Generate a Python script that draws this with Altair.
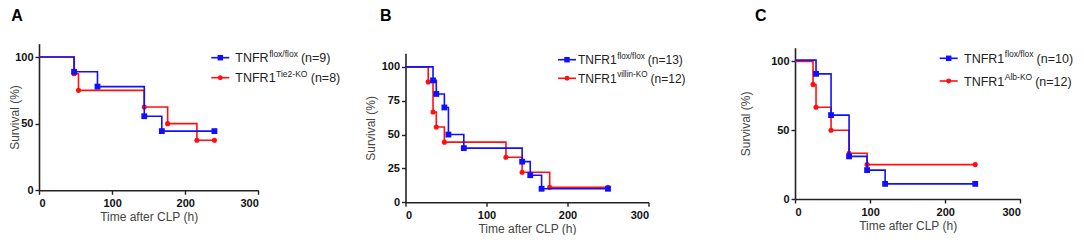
import altair as alt
import pandas as pd

# ---------------- data ----------------
a_ctrl_t = [0, 48, 80, 144, 168, 240]
a_ctrl_s = [100, 88.9, 77.8, 55.6, 44.4, 44.4]
a_ko_t = [0, 48, 54, 144, 176, 216, 240]
a_ko_s = [100, 87.5, 75, 62.5, 50, 37.5, 37.5]

b_ctrl_t = [0, 34, 38, 48, 53, 72, 144, 154, 168, 250]
b_ctrl_s = [100, 90, 80, 70, 50, 40, 30, 20, 10, 10]
b_ko_t = [0, 28, 34, 38, 48, 124, 144, 178, 250]
b_ko_s = [100, 88.9, 66.7, 55.6, 44.4, 33.3, 22.2, 11.1, 11.1]

c_ctrl_t = [0, 28, 48, 72, 96, 120, 240]
c_ctrl_s = [101, 91, 61, 31, 21, 11, 11]
c_ko_t = [0, 24, 28, 48, 72, 96, 240]
c_ko_s = [100, 83.3, 66.7, 50, 33.3, 25, 25]

a_names = [("TNFR", "flox/flox", "(n=9)"), ("TNFR1", "Tie2-KO", "(n=8)")]
b_names = [("TNFR1", "flox/flox", "(n=13)"), ("TNFR1", "villin-KO", "(n=12)")]
c_names = [("TNFR1", "flox/flox", "(n=10)"), ("TNFR1", "Alb-KO", "(n=12)")]

x_ticks = [0, 100, 200, 300]
a_yticks = [0, 50, 100]
b_yticks = [0, 25, 50, 75, 100]
c_yticks = [0, 50, 100]

BLUE = "#1010ff"
RED = "#ff1010"
FONT = "Liberation Sans"

# Arial / Liberation Sans advance widths (per 1000 em)
W = {" ": 278, "(": 333, ")": 333, "=": 584, "/": 278, "-": 333,
     "T": 611, "N": 722, "F": 611, "R": 722, "K": 667, "O": 778, "A": 667,
     "f": 278, "l": 222, "o": 556, "x": 500, "i": 222, "e": 556, "v": 500,
     "n": 556, "b": 556}


def text_width(s, size):
    return sum(W.get(ch, 556) for ch in s) * size / 1000.0


def one():
    return alt.Chart(pd.DataFrame({"k": [0]}))


def series_layers(t, s, color, shape, W_, H, ytop, yticks, title_pad):
    df = pd.DataFrame({"t": t, "s": s})
    xenc = alt.X("t:Q", scale=alt.Scale(domain=[0, 300]),
                 axis=alt.Axis(values=x_ticks, title="Time after CLP (h)",
                               format="d"))
    yenc = alt.Y("s:Q", scale=alt.Scale(domain=[0, 110], range=[H, ytop]),
                 axis=alt.Axis(values=yticks, title="Survival (%)",
                               titlePadding=title_pad, format="d"))
    line = alt.Chart(df).mark_line(interpolate="step-after", color=color,
                                   strokeWidth=1.6).encode(x=xenc, y=yenc)
    pts = alt.Chart(df).transform_filter("datum.t > 0").mark_point(
        shape=shape, filled=True, color=color, opacity=1,
        size=34 if shape == "square" else 26).encode(x="t:Q", y="s:Q")
    return [line, pts]


def legend_layers(names, colors, shapes, x_line, x_text, rows_y, size):
    layers = []
    for (main, sup, n), col, shp, ry in zip(names, colors, shapes, rows_y):
        layers.append(one().mark_rule(color=col, strokeWidth=1.6).encode(
            x=alt.value(x_line), x2=alt.value(x_line + 18), y=alt.value(ry)))
        layers.append(one().mark_point(shape=shp, filled=True, color=col, opacity=1,
                                       size=30 if shp == "square" else 24).encode(
            x=alt.value(x_line + 9), y=alt.value(ry)))
        base = ry + 4.5
        x1 = x_text
        x2 = x1 + text_width(main, size) + 0.5
        x3 = x2 + text_width(sup, size * 0.68) + 3
        layers.append(one().mark_text(align="left", baseline="alphabetic", font=FONT,
                                      fontSize=size, color="#222").encode(
            x=alt.value(x1), y=alt.value(base), text=alt.value(main)))
        layers.append(one().mark_text(align="left", baseline="alphabetic", font=FONT,
                                      fontSize=size * 0.68, color="#222").encode(
            x=alt.value(x2), y=alt.value(base - 5.5), text=alt.value(sup)))
        layers.append(one().mark_text(align="left", baseline="alphabetic", font=FONT,
                                      fontSize=size, color="#222").encode(
            x=alt.value(x3), y=alt.value(base), text=alt.value(n)))
    return layers


def panel(letter, letter_x, ctrl_t, ctrl_s, ko_t, ko_s, names, yticks,
          W_, H, ytop, title_pad, x_line, x_text, rows_y, size):
    layers = []
    layers += series_layers(ko_t, ko_s, RED, "circle", W_, H, ytop, yticks, title_pad)
    layers += series_layers(ctrl_t, ctrl_s, BLUE, "square", W_, H, ytop, yticks, title_pad)
    layers += legend_layers(names, [BLUE, RED], ["square", "circle"],
                            x_line, x_text, rows_y, size)
    layers.append(one().mark_text(align="left", baseline="alphabetic", font=FONT,
                                  fontSize=16, fontWeight="bold", color="#000").encode(
        x=alt.value(letter_x), y=alt.value(12), text=alt.value(letter)))
    return alt.layer(*layers).properties(width=W_, height=H)


pA = panel("A", -27.7, a_ctrl_t, a_ctrl_s, a_ko_t, a_ko_s, a_names, a_yticks,
           219.3, 181.3, 34.7, -7, 172.3, 196.3, [48.7, 68.7], 12.5)
pB = panel("B", -25.5, b_ctrl_t, b_ctrl_s, b_ko_t, b_ko_s, b_names, b_yticks,
           243, 193.3, 44.3, 4, 152.5, 172.5, [50.7, 69.3], 12)
pC = panel("C", -40, c_ctrl_t, c_ctrl_s, c_ko_t, c_ko_s, c_names, c_yticks,
           225.3, 190, 38.7, 18, 144.7, 169, [49.3, 72], 12.5)

chart = alt.hconcat(pA, pB, pC, spacing=146.5, bounds="flush").properties(
    padding=0
).configure_view(stroke=None).configure_axis(
    grid=False, domainColor="#222", domainWidth=1.6, tickColor="#222",
    tickWidth=1.4, tickSize=4, labelFont=FONT, labelFontSize=11,
    labelFontWeight="bold", labelColor="#111", labelPadding=2,
    titleFont=FONT, titleFontSize=12, titleFontWeight="normal",
    titleColor="#444"
).configure_axisX(titlePadding=3, labelPadding=3).configure_axisY(labelPadding=2)

chart.save("out.html", embed_options={"renderer": "svg", "actions": False})
